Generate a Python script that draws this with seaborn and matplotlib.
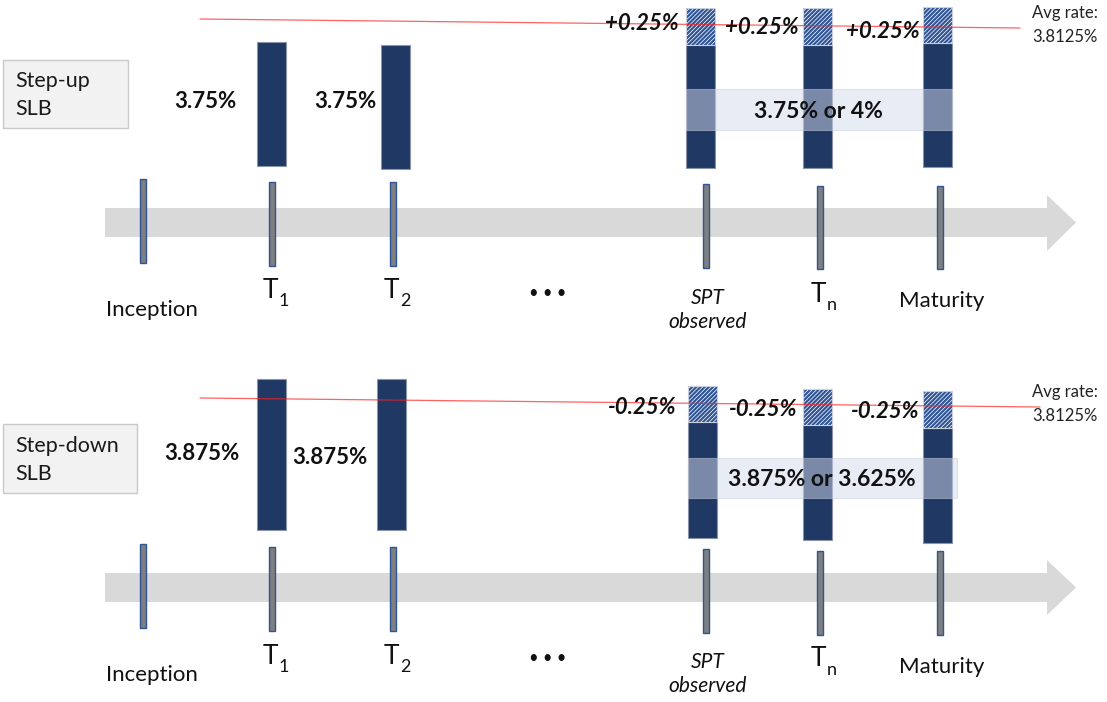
import matplotlib
matplotlib.use("Agg")
import matplotlib.pyplot as plt
import seaborn as sns
from matplotlib.patches import Rectangle, Polygon

# data
events = ["Inception", "T", "T", "• • •", "SPT\nobserved", "T", "Maturity"]
event_subs = ["", "1", "2", "", "", "n", ""]
panel_names = ["Step-up\nSLB", "Step-down\nSLB"]
base_rates = [3.75, 3.875]
alt_rates = ["4%", "3.625%"]
rate_steps = ["+0.25%", "-0.25%"]
avg_rate = "3.8125%"

sns.set_theme(style="white")
plt.rcParams["font.family"] = ["Lato", "DejaVu Sans"]
plt.rcParams["hatch.linewidth"] = 1.6

NAVY = "#203864"
EDGE_BLUE = "#2f5597"

fig = plt.figure(figsize=(11.07, 7.02), dpi=100)
ax = fig.add_axes([0, 0, 1, 1])
ax.set_xlim(0, 1107)
ax.set_ylim(702, 0)
ax.axis("off")

# layout of each panel (pixel space)
panels = [
    dict(box=(3, 60, 125, 68), redline=((200, 19), (1020, 28)),
         plain=[(271.5, 42, 166), (395.5, 45, 169)],
         stacked=[(700.5, 8, 45, 168), (817.5, 8, 45, 168), (937.5, 7, 43, 167)],
         band=(686, 89, 266, 41), band_txt=(818, 111),
         rate_txt=[(205, 101), (345, 101)],
         step_txt=[(642, 24), (762, 28), (883, 31)],
         avg_txt=(1032, 14),
         axis_y=(208, 237, 195, 251),
         ticks=[(143, 179, 263), (271.5, 182, 266), (392.5, 182, 266),
                (706, 184, 268), (820, 186, 269), (940, 186, 269)],
         lab_y=[310, 290, 290, 293, 298, 294, 301]),
    dict(box=(3, 424, 134, 69), redline=((200, 398), (1040, 407)),
         plain=[(271.5, 379, 530), (391.5, 379, 530)],
         stacked=[(702.5, 386, 422, 538), (817.5, 389, 425, 540), (937.5, 391, 428, 543)],
         band=(688, 458, 269, 40), band_txt=(822, 479),
         rate_txt=[(202, 453), (330, 457)],
         step_txt=[(642, 408), (763, 410), (885, 412)],
         avg_txt=(1032, 393),
         axis_y=(573, 602, 560, 615),
         ticks=[(143, 544, 628), (271.5, 547, 631), (392.5, 547, 631),
                (706, 549, 633), (820, 551, 635), (940, 551, 635)],
         lab_y=[675, 656, 656, 658, 662, 659, 667]),
]

label_x = [152, 270, 391, 548, 708, 818, 942]

for i, p in enumerate(panels):
    # label box
    bx, by, bw, bh = p["box"]
    ax.add_patch(Rectangle((bx, by), bw, bh, facecolor="#f2f2f2", edgecolor="#c9c9c9", lw=1))
    ax.text(bx + 12, by + bh / 2 + 1, panel_names[i], fontsize=15.5, va="center", ha="left",
            linespacing=1.5, color="#1a1a1a")

    # timeline arrow
    y0, y1, h0, h1 = p["axis_y"]
    ym = (y0 + y1) / 2
    ax.add_patch(Polygon([(105, y0), (1047, y0), (1047, h0), (1076, ym), (1047, h1),
                          (1047, y1), (105, y1)], closed=True, facecolor="#d9d9d9",
                         edgecolor="none", zorder=1))
    for (tx, t0, t1) in p["ticks"]:
        ax.bar(tx, t1 - t0, bottom=t0, width=6, color="#7f7f7f", edgecolor=EDGE_BLUE,
               lw=1, zorder=2)

    # coupon bars before the SPT
    for (cx, t0, t1) in p["plain"]:
        ax.bar(cx, t1 - t0, bottom=t0, width=29, color=NAVY, edgecolor="#8a93a8",
               lw=0.8, zorder=3)
    for (x, y) in p["rate_txt"]:
        ax.text(x, y, f"{base_rates[i]}%", fontsize=16, fontweight="bold",
                ha="center", va="center", color="#111111")

    # coupon bars after the SPT (base + step)
    for (cx, hs, mid, t1) in p["stacked"]:
        ax.bar(cx, t1 - mid, bottom=mid, width=29, color=NAVY, edgecolor="#8a93a8",
               lw=0.8, zorder=3)
        ax.bar(cx, mid - hs, bottom=hs, width=29, color="white", edgecolor=EDGE_BLUE,
               hatch="////////", lw=0, zorder=3)
        ax.add_patch(Rectangle((cx - 14.5, hs), 29, mid - hs, fill=False,
                               edgecolor="#c9cfdc", lw=0.8, zorder=4))
    for (x, y) in p["step_txt"]:
        ax.text(x, y, rate_steps[i], fontsize=16, fontweight="bold", style="italic",
                ha="center", va="center", color="#111111", zorder=6)

    # translucent band over the stepped bars
    gx, gy, gw, gh = p["band"]
    ax.add_patch(Rectangle((gx, gy), gw, gh, facecolor="#d2daeb", alpha=0.5,
                           edgecolor="#c9cfdc", lw=0.8, zorder=5))
    ax.text(*p["band_txt"], f"{base_rates[i]}% or {alt_rates[i]}", fontsize=16.5,
            fontweight="bold", ha="center", va="center", color="#111111", zorder=6)

    # average rate line
    (rx0, ry0), (rx1, ry1) = p["redline"]
    ax.plot([rx0, rx1], [ry0, ry1], color="#ff2020", lw=0.9, alpha=0.7, zorder=5)
    ax.text(p["avg_txt"][0], p["avg_txt"][1] - 9, f"Avg rate:\n{avg_rate}", fontsize=12,
            ha="left", va="top", linespacing=1.65, color="#222222")

    # timeline labels
    for j, name in enumerate(events):
        x, y = label_x[j], p["lab_y"][j]
        if name == "T":
            ax.text(x, y, "T", fontsize=19, ha="center", va="center", color="#111111")
            ax.text(x + 14, y + 11, event_subs[j], fontsize=13, ha="center", va="center",
                    color="#111111")
        elif name.startswith("SPT"):
            ax.text(x, y + 12, name, fontsize=15, style="italic", ha="center",
                    va="center", linespacing=1.3, color="#111111")
        elif name.startswith("•"):
            ax.text(x, y, name, fontsize=12, ha="center", va="center", color="#111111")
        else:
            ax.text(x, y, name, fontsize=16, ha="center", va="center", color="#111111")

fig.savefig("out.png", dpi=100)
